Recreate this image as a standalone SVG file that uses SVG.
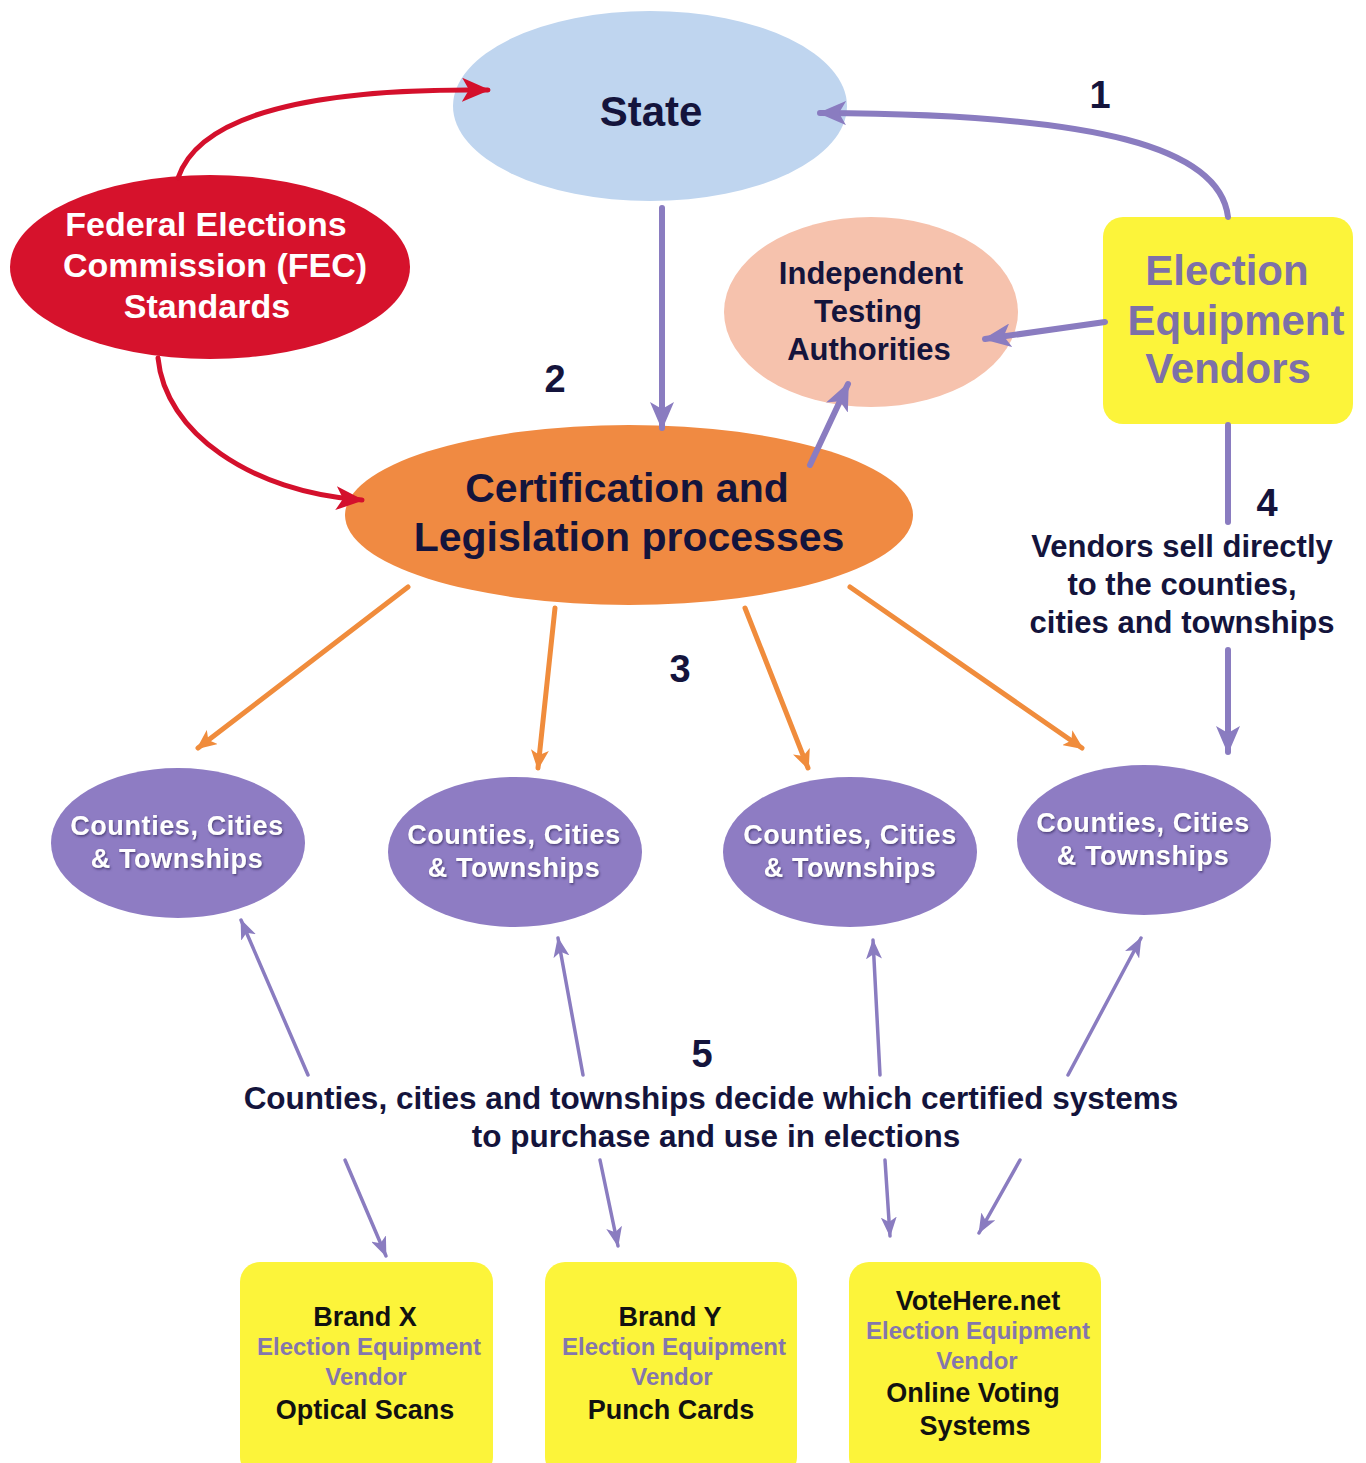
<svg xmlns="http://www.w3.org/2000/svg" width="1366" height="1463" viewBox="0 0 1366 1463">
  <defs>
    <style>
      text { font-family: "Liberation Sans", Arial, sans-serif; font-weight: bold; text-anchor: middle; }
      .dark { fill: #14143c; }
      .white { fill: #ffffff; }
      .vend { fill: #7d70a8; }
      .num { font-size: 38px; fill: #14143c; }
      .county { fill: #8e7cc3; }
      .ctext { font-size: 27px; letter-spacing: 0.6px; fill: #ffffff; filter: url(#shadow); }
      .box { fill: #fcf43a; }
      .btitle { font-size: 27px; fill: #111111; }
      .bsub { font-size: 24px; fill: #8476ad; }
      .pThick { fill: none; stroke: #8a7cc0; stroke-width: 6; stroke-linecap: round; }
      .pThin { fill: none; stroke: #8a7cc0; stroke-width: 3.5; stroke-linecap: round; }
      .orange { fill: none; stroke: #f08c3c; stroke-width: 5; stroke-linecap: round; }
      .red { fill: none; stroke: #d4102c; stroke-width: 5; stroke-linecap: round; }
    </style>
    <filter id="shadow" x="-10%" y="-30%" width="120%" height="160%">
      <feDropShadow dx="1" dy="1.5" stdDeviation="0.8" flood-color="#3a2d66" flood-opacity="0.8"/>
    </filter>
    <marker id="headPurple" markerUnits="userSpaceOnUse" markerWidth="28" markerHeight="24" refX="26" refY="12" orient="auto">
      <path d="M0,0 L28,12 L0,24 L7,12 z" fill="#8a7cc0"/>
    </marker>
    <marker id="headPurpleSm" markerUnits="userSpaceOnUse" markerWidth="20" markerHeight="16" refX="19" refY="8" orient="auto">
      <path d="M0,0 L20,8 L0,16 L5,8 z" fill="#8a7cc0"/>
    </marker>
    <marker id="headOrange" markerUnits="userSpaceOnUse" markerWidth="20" markerHeight="18" refX="18" refY="9" orient="auto">
      <path d="M0,0 L20,9 L0,18 L5,9 z" fill="#f08c3c"/>
    </marker>
    <marker id="headRed" markerUnits="userSpaceOnUse" markerWidth="28" markerHeight="24" refX="26" refY="12" orient="auto">
      <path d="M0,0 L28,12 L0,24 L7,12 z" fill="#d4102c"/>
    </marker>
  </defs>

  <rect x="0" y="0" width="1366" height="1463" fill="#ffffff"/>

  <!-- State -->
  <g id="state">
    <ellipse cx="650" cy="106" rx="197" ry="95" fill="#bfd5ef"/>
    <text x="651" y="126" class="dark" font-size="42">State</text>
  </g>

  <!-- FEC standards -->
  <g id="fec">
    <ellipse cx="210" cy="267" rx="200" ry="92" fill="#d6122c"/>
    <text x="206" y="236" class="white" font-size="34">Federal Elections</text>
    <text x="215" y="277" class="white" font-size="34">Commission (FEC)</text>
    <text x="207" y="318" class="white" font-size="34">Standards</text>
  </g>

  <!-- Independent Testing Authorities -->
  <g id="ita">
    <ellipse cx="871" cy="312" rx="147" ry="95" fill="#f6c2ad"/>
    <text x="871" y="284" class="dark" font-size="31">Independent</text>
    <text x="868" y="322" class="dark" font-size="31">Testing</text>
    <text x="869" y="360" class="dark" font-size="31">Authorities</text>
  </g>

  <!-- Election Equipment Vendors -->
  <g id="vendors">
    <rect x="1103" y="217" width="250" height="207" rx="20" class="box"/>
    <text x="1227" y="285" class="vend" font-size="42">Election</text>
    <text x="1236" y="335" class="vend" font-size="42">Equipment</text>
    <text x="1228" y="383" class="vend" font-size="42">Vendors</text>
  </g>

  <!-- Certification and Legislation -->
  <g id="certification">
    <ellipse cx="629" cy="515" rx="284" ry="90" fill="#f08a42"/>
    <text x="627" y="502" class="dark" font-size="41">Certification and</text>
    <text x="629" y="551" class="dark" font-size="41">Legislation processes</text>
  </g>

  <!-- step numbers and notes -->
  <g id="labels">
    <text x="1100" y="108" class="num">1</text>
    <text x="555" y="392" class="num">2</text>
    <text x="680" y="682" class="num">3</text>
    <text x="1267" y="516" class="num">4</text>
    <text x="1182" y="557" class="dark" font-size="31">Vendors sell directly</text>
    <text x="1182" y="595" class="dark" font-size="31">to the counties,</text>
    <text x="1182" y="633" class="dark" font-size="31">cities and townships</text>
    <text x="702" y="1067" class="num">5</text>
    <text x="711" y="1109" class="dark" font-size="31.5">Counties, cities and townships decide which certified systems</text>
    <text x="716" y="1147" class="dark" font-size="31.5">to purchase and use in elections</text>
  </g>

  <!-- Counties, Cities & Townships -->
  <g id="county1">
    <ellipse cx="178" cy="843" rx="127" ry="75" class="county"/>
    <text x="177" y="835" class="ctext">Counties, Cities</text>
    <text x="177" y="868" class="ctext">&amp; Townships</text>
  </g>
  <g id="county2">
    <ellipse cx="515" cy="852" rx="127" ry="75" class="county"/>
    <text x="514" y="844" class="ctext">Counties, Cities</text>
    <text x="514" y="877" class="ctext">&amp; Townships</text>
  </g>
  <g id="county3">
    <ellipse cx="850" cy="852" rx="127" ry="75" class="county"/>
    <text x="850" y="844" class="ctext">Counties, Cities</text>
    <text x="850" y="877" class="ctext">&amp; Townships</text>
  </g>
  <g id="county4">
    <ellipse cx="1144" cy="840" rx="127" ry="75" class="county"/>
    <text x="1143" y="832" class="ctext">Counties, Cities</text>
    <text x="1143" y="865" class="ctext">&amp; Townships</text>
  </g>

  <!-- vendor boxes -->
  <g id="brandX">
    <rect x="240" y="1262" width="253" height="215" rx="20" class="box"/>
    <text x="365" y="1326" class="btitle">Brand X</text>
    <text x="369" y="1355" class="bsub">Election Equipment</text>
    <text x="366" y="1385" class="bsub">Vendor</text>
    <text x="365" y="1419" class="btitle">Optical Scans</text>
  </g>
  <g id="brandY">
    <rect x="545" y="1262" width="252" height="215" rx="20" class="box"/>
    <text x="670" y="1326" class="btitle">Brand Y</text>
    <text x="674" y="1355" class="bsub">Election Equipment</text>
    <text x="672" y="1385" class="bsub">Vendor</text>
    <text x="671" y="1419" class="btitle">Punch Cards</text>
  </g>
  <g id="voteHere">
    <rect x="849" y="1262" width="252" height="215" rx="20" class="box"/>
    <text x="978" y="1310" class="btitle">VoteHere.net</text>
    <text x="978" y="1339" class="bsub">Election Equipment</text>
    <text x="977" y="1369" class="bsub">Vendor</text>
    <text x="973" y="1402" class="btitle">Online Voting</text>
    <text x="975" y="1435" class="btitle">Systems</text>
  </g>

  <!-- connectors, drawn over the shapes so the arrowheads stay visible -->
  <g id="connectors">
    <!-- FEC standards to State and to certification -->
    <path class="red" d="M178,178 C200,112 320,88 488,90" marker-end="url(#headRed)"/>
    <path class="red" d="M158,358 C165,432 250,492 362,500" marker-end="url(#headRed)"/>
    <!-- 1: vendors to State -->
    <path class="pThick" d="M1228,217 C1220,148 1100,114 820,113" marker-end="url(#headPurple)"/>
    <!-- 2: State to certification -->
    <path class="pThick" d="M662,208 L662,428" marker-end="url(#headPurple)"/>
    <!-- vendors to testing authorities -->
    <path class="pThick" d="M1105,322 L985,339" marker-end="url(#headPurple)"/>
    <!-- certification to testing authorities -->
    <path class="pThick" d="M810,465 L848,384" marker-end="url(#headPurple)"/>
    <!-- 4: vendors sell directly -->
    <path class="pThick" d="M1228,425 L1228,522"/>
    <path class="pThick" d="M1228,650 L1228,752" marker-end="url(#headPurple)"/>
    <!-- 3: certification to counties -->
    <path class="orange" d="M408,587 L198,748" marker-end="url(#headOrange)"/>
    <path class="orange" d="M555,608 L538,768" marker-end="url(#headOrange)"/>
    <path class="orange" d="M745,608 L808,768" marker-end="url(#headOrange)"/>
    <path class="orange" d="M850,587 L1082,748" marker-end="url(#headOrange)"/>
    <!-- 5: decision up to counties -->
    <path class="pThin" d="M308,1075 L241,920" marker-end="url(#headPurpleSm)"/>
    <path class="pThin" d="M583,1075 L558,938" marker-end="url(#headPurpleSm)"/>
    <path class="pThin" d="M880,1075 L873,940" marker-end="url(#headPurpleSm)"/>
    <path class="pThin" d="M1068,1075 L1141,938" marker-end="url(#headPurpleSm)"/>
    <!-- 5: decision down to vendor boxes -->
    <path class="pThin" d="M345,1160 L386,1256" marker-end="url(#headPurpleSm)"/>
    <path class="pThin" d="M600,1160 L618,1246" marker-end="url(#headPurpleSm)"/>
    <path class="pThin" d="M885,1160 L890,1236" marker-end="url(#headPurpleSm)"/>
    <path class="pThin" d="M1020,1160 L979,1233" marker-end="url(#headPurpleSm)"/>
  </g>
</svg>
